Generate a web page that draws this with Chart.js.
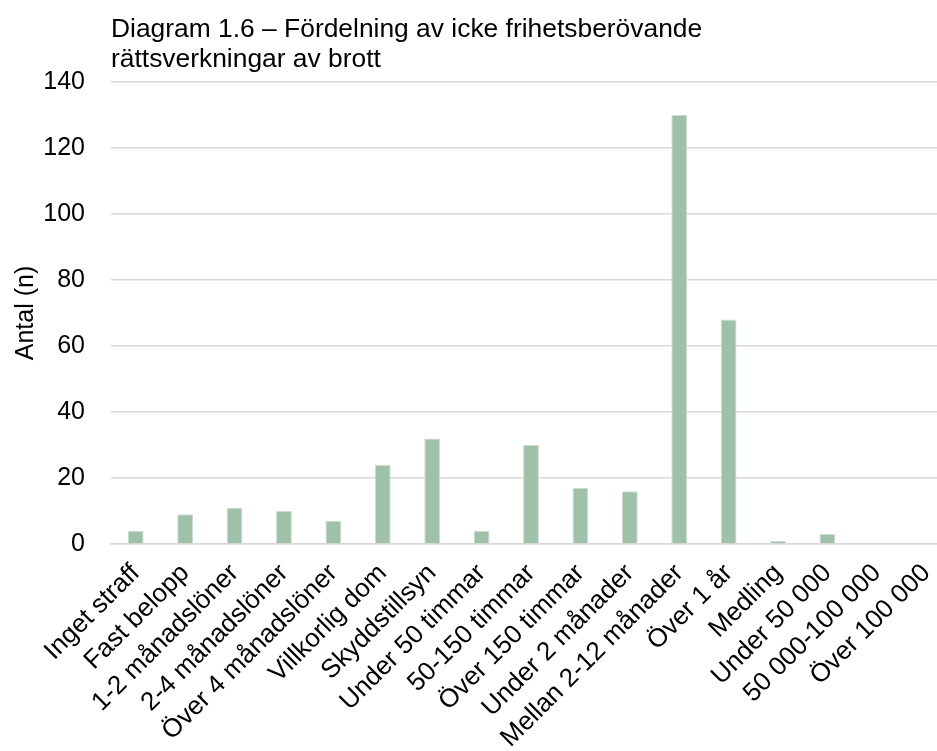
<!DOCTYPE html>
<html lang="sv">
<head>
<meta charset="utf-8">
<script src="https://cdn.jsdelivr.net/npm/chart.js@4/dist/chart.umd.min.js"></script>
<style>
  html, body { margin: 0; padding: 0; background: #ffffff; overflow: hidden; }
  #wrap { position: relative; width: 960px; height: 751px; }
</style>
</head>
<body>
<div id="wrap"><canvas id="chart"></canvas></div>
<script>
// Rättsverkningar (kategorier) och antal per kategori
const categories = [
  'Inget straff', 'Fast belopp', '1-2 månadslöner', '2-4 månadslöner',
  'Över 4 månadslöner', 'Villkorlig dom', 'Skyddstillsyn', 'Under 50 timmar',
  '50-150 timmar', 'Över 150 timmar', 'Under 2 månader', 'Mellan 2-12 månader',
  'Över 1 år', 'Medling', 'Under 50 000', '50 000-100 000', 'Över 100 000'
];
const counts = [4, 9, 11, 10, 7, 24, 32, 4, 30, 17, 16, 130, 68, 1, 3, 0, 0];
const yTicks = [0, 20, 40, 60, 80, 100, 120, 140];
const titleLines = ['Diagram 1.6 – Fördelning av icke frihetsberövande', 'rättsverkningar av brott'];
const yAxisTitle = 'Antal (n)';

const FONT = 'Arial, "Liberation Sans", Helvetica, sans-serif';
const TEXT = '#000000';
const GRID = '#d9d9d9';
const BAR = '#9fc1aa';

// Two-line heading drawn flush with the left edge of the plot area
const headingPlugin = {
  id: 'heading',
  afterDraw(chart) {
    const ctx = chart.ctx;
    ctx.save();
    ctx.font = '26.4px ' + FONT;
    ctx.fillStyle = TEXT;
    ctx.textAlign = 'left';
    ctx.textBaseline = 'alphabetic';
    titleLines.forEach((line, i) => {
      ctx.fillText(line, chart.chartArea.left, 37 + i * 30);
    });
    ctx.restore();
  }
};

new Chart(document.getElementById('chart'), {
  type: 'bar',
  data: {
    labels: categories,
    datasets: [{
      data: counts,
      backgroundColor: BAR,
      borderColor: '#c9ddcf',
      borderWidth: 1,
      barPercentage: 0.32,
      categoryPercentage: 1.0
    }]
  },
  options: {
    responsive: true,
    maintainAspectRatio: false,
    animation: false,
    layout: { padding: { top: 82, left: 0, right: 9, bottom: 0 } },
    plugins: {
      legend: { display: false },
      tooltip: { enabled: false },
      title: { display: false }
    },
    scales: {
      x: {
        grid: { display: false, drawTicks: false },
        border: { display: true, color: GRID, width: 1.5 },
        ticks: {
          color: TEXT,
          font: { family: FONT, size: 26 },
          maxRotation: 45,
          minRotation: 45,
          autoSkip: false,
          padding: 14
        },
        afterFit(scale) {
          scale.height = 207;
          scale.paddingLeft = 0;
          scale.paddingRight = 0;
        }
      },
      y: {
        min: 0,
        max: 140,
        afterBuildTicks(scale) {
          scale.ticks = yTicks.map(v => ({ value: v }));
        },
        grid: { color: GRID, lineWidth: 1.5, drawTicks: false },
        border: { display: false },
        ticks: {
          color: TEXT,
          font: { family: FONT, size: 25 },
          padding: 26
        },
        title: {
          display: true,
          text: yAxisTitle,
          color: TEXT,
          font: { family: FONT, size: 25 },
          padding: { top: 11, bottom: 0 }
        },
        afterFit(scale) {
          scale.width = 111;
          scale.paddingTop = 0;
          scale.paddingBottom = 0;
        }
      }
    }
  },
  plugins: [headingPlugin]
});
</script>
</body>
</html>
